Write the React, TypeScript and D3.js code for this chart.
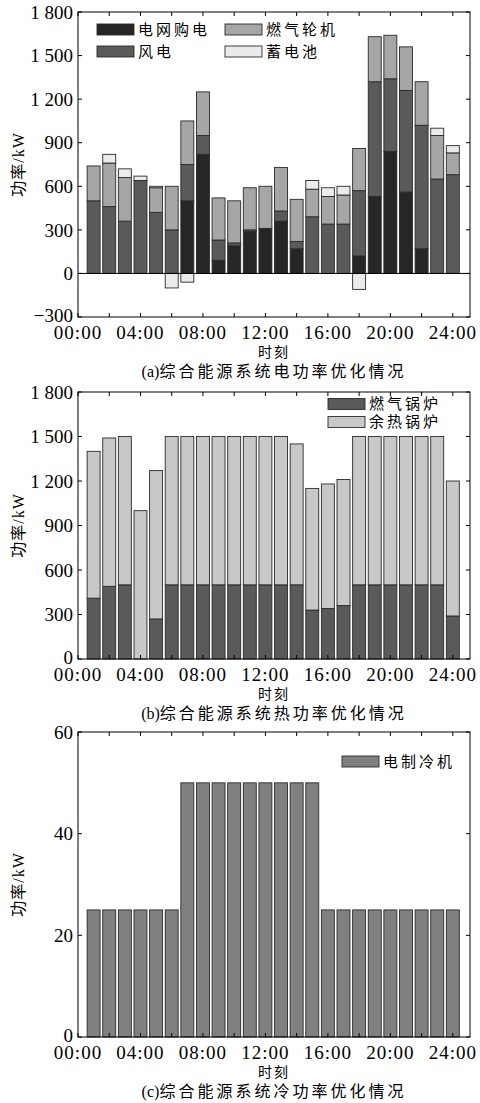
import * as d3 from "d3"

// hour index of each bar
const hours = [1, 2, 3, 4, 5, 6, 7, 8, 9, 10, 11, 12, 13, 14, 15, 16, 17, 18, 19, 20, 21, 22, 23, 24]
const xTickHours = [0, 4, 8, 12, 16, 20, 24]
const xTickLabels = ["00:00", "04:00", "08:00", "12:00", "16:00", "20:00", "24:00"]
const xMinorHours = [0, 2, 4, 6, 8, 10, 12, 14, 16, 18, 20, 22, 24]

// (a) electric power, kW
const gridBuy = [0, 0, 0, 0, 0, 0, 500, 820, 90, 190, 290, 310, 360, 170, 0, 0, 0, 120, 530, 840, 560, 170, 0, 0]
const windPower = [500, 460, 360, 640, 420, 300, 250, 130, 140, 20, 10, 0, 70, 50, 390, 340, 340, 450, 790, 500, 700, 850, 650, 680]
const gasTurbine = [240, 300, 300, 0, 170, 300, 300, 300, 290, 290, 290, 290, 300, 290, 190, 190, 200, 290, 310, 300, 300, 300, 300, 150]
const battery = [0, 60, 60, 30, 10, -100, -60, 0, 0, 0, 0, 0, 0, 0, 60, 60, 60, -110, 0, 0, 0, 0, 50, 50]
const elecTicks = [-300, 0, 300, 600, 900, 1200, 1500, 1800]

// (b) heat power, kW
const gasBoiler = [410, 490, 500, 0, 270, 500, 500, 500, 500, 500, 500, 500, 500, 500, 330, 340, 360, 500, 500, 500, 500, 500, 500, 290]
const wasteHeatBoiler = [990, 1000, 1000, 1000, 1000, 1000, 1000, 1000, 1000, 1000, 1000, 1000, 1000, 950, 820, 840, 850, 1000, 1000, 1000, 1000, 1000, 1000, 910]
const heatTicks = [0, 300, 600, 900, 1200, 1500, 1800]

// (c) cooling power, kW
const electricChiller = [25, 25, 25, 25, 25, 25, 50, 50, 50, 50, 50, 50, 50, 50, 50, 25, 25, 25, 25, 25, 25, 25, 25, 25]
const coolTicks = [0, 20, 40, 60]

const SERIF = "'Liberation Serif','Times New Roman','Noto Sans CJK SC',serif"
const CJK = "'Noto Sans CJK SC','Liberation Serif',sans-serif"

const LEFT = 78
const RIGHT = 470

const fmt = (v: number) => d3.format(",")(v).replace(",", " ")

interface Series {
  name: string
  values: number[]
  color: string
}

interface PanelProps {
  top: number
  bottom: number
  domain: [number, number]
  ticks: number[]
  series: Series[]
  legend: { x: number; y: number; name: string; color: string }[]
  tag: string
  caption: string
}

function Panel({ top, bottom, domain, ticks, series, legend, tag, caption }: PanelProps) {
  const x = d3.scaleLinear().domain([0, 25.1]).range([LEFT, RIGHT])
  const y = d3.scaleLinear().domain(domain).range([bottom, top])
  const barW = (x(1) - x(0)) * 0.83

  const rows = hours.map((h, i) => {
    const r: Record<string, number> = { hour: h }
    series.forEach((s) => (r[s.name] = s.values[i]))
    return r
  })
  const stacked = d3
    .stack<Record<string, number>>()
    .keys(series.map((s) => s.name))
    .offset(d3.stackOffsetDiverging)(rows)

  const midY = (top + bottom) / 2

  return (
    <g>
      {stacked.map((layer, li) => (
        <g key={layer.key} fill={series[li].color}>
          {layer.map((d, i) =>
            d[1] === d[0] ? null : (
              <rect
                key={i}
                x={x(hours[i]) - barW / 2}
                y={y(Math.max(d[0], d[1]))}
                width={barW}
                height={Math.abs(y(d[0]) - y(d[1]))}
                stroke="#2a2a2a"
                strokeWidth={0.9}
              />
            )
          )}
        </g>
      ))}

      {/* zero line when the domain goes negative */}
      {domain[0] < 0 && (
        <line x1={LEFT} x2={RIGHT} y1={y(0)} y2={y(0)} stroke="#000" strokeWidth={1} />
      )}

      {/* frame */}
      <rect x={LEFT} y={top} width={RIGHT - LEFT} height={bottom - top} fill="none" stroke="#000" strokeWidth={1} />

      {/* y ticks */}
      {ticks.map((t) => (
        <g key={t}>
          <line x1={LEFT} x2={LEFT + 4} y1={y(t)} y2={y(t)} stroke="#000" />
          <line x1={RIGHT - 4} x2={RIGHT} y1={y(t)} y2={y(t)} stroke="#000" />
          <text
            x={LEFT - 5}
            y={y(t)}
            dy={t === domain[0] ? "0.25em" : "0.35em"}
            textAnchor="end"
            fontFamily={SERIF}
            fontSize={19}
          >
            {fmt(t)}
          </text>
        </g>
      ))}

      {/* x ticks */}
      {xMinorHours.map((h) => (
        <g key={h}>
          <line x1={x(h)} x2={x(h)} y1={bottom} y2={bottom - 4} stroke="#000" />
          <line x1={x(h)} x2={x(h)} y1={top} y2={top + 4} stroke="#000" />
        </g>
      ))}
      {xTickHours.map((h, i) => (
        <text
          key={h}
          x={x(h)}
          y={bottom + 22}
          textAnchor="middle"
          fontFamily={SERIF}
          fontSize={19}
          letterSpacing={1}
        >
          {xTickLabels[i]}
        </text>
      ))}

      <text
        x={(LEFT + RIGHT) / 2}
        y={bottom + 40}
        textAnchor="middle"
        fontFamily={CJK}
        fontSize={14}
        letterSpacing={2}
      >
        时刻
      </text>
      <text
        x={(LEFT + RIGHT) / 2}
        y={bottom + 60}
        textAnchor="middle"
        fontFamily={SERIF}
        fontSize={16}
      >
        <tspan>{tag}</tspan>
        <tspan letterSpacing={3}>{caption}</tspan>
      </text>

      <text
        transform={`translate(24,${midY}) rotate(-90)`}
        textAnchor="middle"
        fontFamily={SERIF}
        fontSize={16}
        letterSpacing={1}
      >
        功率/kW
      </text>

      {/* legend */}
      {legend.map((l) => (
        <g key={l.name}>
          <rect x={l.x} y={l.y - 5.5} width={37} height={11} fill={l.color} stroke="#2a2a2a" strokeWidth={0.9} />
          <text
            x={l.x + 41}
            y={l.y}
            dy="0.36em"
            fontFamily={CJK}
            fontSize={15}
            letterSpacing={3}
          >
            {l.name}
          </text>
        </g>
      ))}
    </g>
  )
}

export default function App() {
  const cGrid = "#262626"
  const cWind = "#5a5a5a"
  const cGas = "#a6a6a6"
  const cBat = "#ebebeb"
  const cHeatGas = "#5a5a5a"
  const cWaste = "#c8c8c8"
  const cCool = "#808080"

  return (
    <svg
      width={480}
      height={1103}
      style={{ position: "absolute", left: 0, top: 0, background: "#fff" }}
    >
      <Panel
        top={12}
        bottom={317}
        domain={[-300, 1800]}
        ticks={elecTicks}
        series={[
          { name: "电网购电", values: gridBuy, color: cGrid },
          { name: "风电", values: windPower, color: cWind },
          { name: "燃气轮机", values: gasTurbine, color: cGas },
          { name: "蓄电池", values: battery, color: cBat },
        ]}
        legend={[
          { x: 97, y: 29.5, name: "电网购电", color: cGrid },
          { x: 97, y: 51.5, name: "风电", color: cWind },
          { x: 225, y: 29.5, name: "燃气轮机", color: cGas },
          { x: 225, y: 51.5, name: "蓄电池", color: cBat },
        ]}
        tag="(a)"
        caption="综合能源系统电功率优化情况"
      />
      <Panel
        top={392}
        bottom={659}
        domain={[0, 1800]}
        ticks={heatTicks}
        series={[
          { name: "燃气锅炉", values: gasBoiler, color: cHeatGas },
          { name: "余热锅炉", values: wasteHeatBoiler, color: cWaste },
        ]}
        legend={[
          { x: 328, y: 404, name: "燃气锅炉", color: cHeatGas },
          { x: 328, y: 422, name: "余热锅炉", color: cWaste },
        ]}
        tag="(b)"
        caption="综合能源系统热功率优化情况"
      />
      <Panel
        top={732}
        bottom={1037}
        domain={[0, 60]}
        ticks={coolTicks}
        series={[{ name: "电制冷机", values: electricChiller, color: cCool }]}
        legend={[{ x: 342, y: 761.5, name: "电制冷机", color: cCool }]}
        tag="(c)"
        caption="综合能源系统冷功率优化情况"
      />
    </svg>
  )
}
